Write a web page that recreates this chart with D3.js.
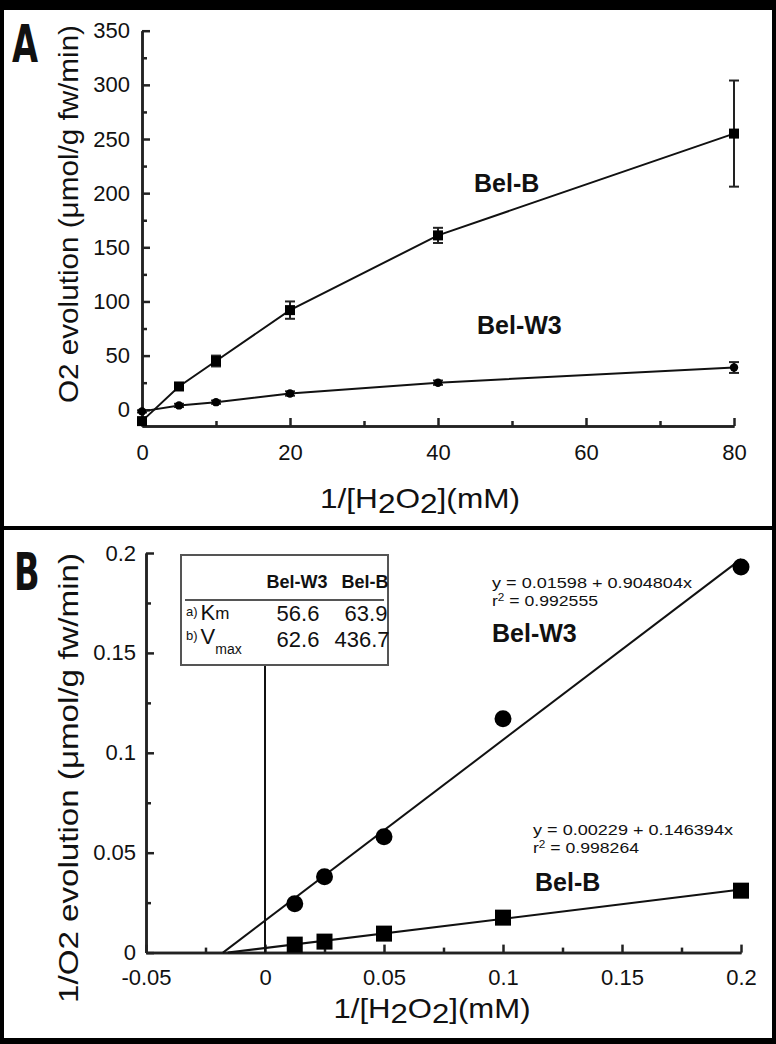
<!DOCTYPE html>
<html><head><meta charset="utf-8">
<script src="https://cdn.jsdelivr.net/npm/d3@7"></script>
<style>body{margin:0;background:#000;}svg{display:block;}text{font-family:"Liberation Sans",Arial,sans-serif;fill:#111;}</style>
</head><body>
<script>
// ---- Panel A data ----
const aX = [0, 5, 10, 20, 40, 80];
const aBelB = [-10.5, 21.5, 45, 92, 161, 255];
const aBelBErr = [2, 3, 5, 8, 7, 49];
const aBelW3 = [-1.5, 4, 7, 15, 25, 39];
const aBelW3Err = [1, 1.5, 1.5, 2, 2, 5];
const aXTicks = [0, 20, 40, 60, 80];
const aYTicks = [0, 50, 100, 150, 200, 250, 300, 350];
// ---- Panel B data ----
const bX = [0.0125, 0.025, 0.05, 0.1, 0.2];
const bBelW3 = [0.0245, 0.038, 0.058, 0.117, 0.193];
const bBelB = [0.004, 0.0055, 0.0095, 0.0175, 0.031];
const bFitW3 = [0.01598, 0.904804];   // intercept, slope
const bFitB = [0.00229, 0.146394];
const bFitEnd = 0.2;
const bXTicks = [-0.05, 0, 0.05, 0.1, 0.15, 0.2];
const bYTicks = [0, 0.05, 0.1, 0.15, 0.2];
const tableCols = ["Bel-W3", "Bel-B"];
const tableKm = ["56.6", "63.9"];
const tableVmax = ["62.6", "436.7"];

const W = 776, H = 1044;
const svg = d3.select("body").append("svg").attr("width", W).attr("height", H);
svg.append("rect").attr("width", W).attr("height", H).attr("fill", "#000");
svg.append("rect").attr("x", 4).attr("y", 10).attr("width", 768).attr("height", 516).attr("fill", "#fff");
svg.append("rect").attr("x", 4).attr("y", 530).attr("width", 768).attr("height", 508).attr("fill", "#fff");

const axisColor = "#222";
const TF = 22;
function styleAxis(g) {
  g.selectAll("path.domain").attr("stroke", axisColor).attr("stroke-width", 2.5);
  g.selectAll(".tick line").attr("stroke", axisColor).attr("stroke-width", 2.5);
  g.selectAll(".tick text").attr("fill", "#222").style("font-size", TF + "px").style("font-family", '"Liberation Sans",Arial,sans-serif');
}
function title(g, x, y, rot, len, parts, fs) {
  const t = g.append("text").attr("transform", `translate(${x},${y}) rotate(${rot})`)
    .attr("text-anchor", "middle").style("font-size", fs + "px").attr("fill", "#222")
    .attr("textLength", len).attr("lengthAdjust", "spacingAndGlyphs");
  let cur = 0;
  parts.forEach(([s, off]) => { t.append("tspan").attr("dy", off - cur).text(s); cur = off; });
}

// ================= Panel A =================
const ax = d3.scaleLinear().domain([0, 80]).range([142, 734]);
const ay = d3.scaleLinear().domain([-15, 350]).range([426, 30.7]);

const gA = svg.append("g");
gA.append("g").attr("transform", `translate(0,${ay(-15)})`)
  .call(d3.axisBottom(ax).tickValues([10, 30, 50, 70]).tickSize(-5).tickSizeOuter(0).tickFormat(""))
  .call(styleAxis);
gA.append("g").attr("transform", `translate(${ax(0)},0)`)
  .call(d3.axisLeft(ay).tickValues([25, 75, 125, 175, 225, 275, 325]).tickSize(-5).tickSizeOuter(0).tickFormat(""))
  .call(styleAxis);
gA.append("g").attr("transform", `translate(0,${ay(-15)})`)
  .call(d3.axisBottom(ax).tickValues(aXTicks).tickSize(-8).tickSizeOuter(0).tickPadding(18).tickFormat(d3.format("d")))
  .call(styleAxis);
gA.append("g").attr("transform", `translate(${ax(0)},0)`)
  .call(d3.axisLeft(ay).tickValues(aYTicks).tickSize(-8).tickSizeOuter(0).tickPadding(12).tickFormat(d3.format("d")))
  .call(styleAxis);

const lineA = d3.line().x(d => ax(d[0])).y(d => ay(d[1]));
const belB = aX.map((x, i) => [x, aBelB[i], aBelBErr[i]]);
const belW3 = aX.map((x, i) => [x, aBelW3[i], aBelW3Err[i]]);
[belB, belW3].forEach(s => {
  gA.append("path").datum(s).attr("d", lineA).attr("fill", "none").attr("stroke", "#111").attr("stroke-width", 2);
  const eb = gA.append("g").selectAll("g").data(s).join("g");
  eb.append("line").attr("x1", d => ax(d[0])).attr("x2", d => ax(d[0]))
    .attr("y1", d => ay(d[1] - d[2])).attr("y2", d => ay(d[1] + d[2])).attr("stroke", "#222").attr("stroke-width", 2);
  [-1, 1].forEach(sg => eb.append("line").attr("x1", d => ax(d[0]) - 5).attr("x2", d => ax(d[0]) + 5)
    .attr("y1", d => ay(d[1] + sg * d[2])).attr("y2", d => ay(d[1] + sg * d[2])).attr("stroke", "#222").attr("stroke-width", 2));
});
gA.selectAll("rect.mB").data(belB).join("rect").attr("class", "mB")
  .attr("x", d => ax(d[0]) - 5).attr("y", d => ay(d[1]) - 5).attr("width", 10).attr("height", 10).attr("fill", "#000");
gA.selectAll("circle.mW").data(belW3).join("circle").attr("class", "mW")
  .attr("cx", d => ax(d[0])).attr("cy", d => ay(d[1])).attr("r", 4.2).attr("fill", "#000");

gA.append("text").attr("x", 474).attr("y", 192).style("font-size", "25px").style("font-weight", "bold").text("Bel-B");
gA.append("text").attr("x", 477).attr("y", 334).style("font-size", "25px").style("font-weight", "bold").text("Bel-W3");

title(gA, 78, 214, -90, 378, [["O2 evolution (\u03bcmol/g fw/min)", 0]], 28);
title(gA, 420, 508, 0, 200, [["1/[H", 0], ["2", 5], ["O", 0], ["2", 5], ["](mM)", 0]], 28);

svg.append("text").attr("transform", "translate(12,62) scale(0.72,1)")
  .style("font-size", "52px").style("font-weight", "bold").style("font-family", '"DejaVu Sans Condensed","DejaVu Sans",sans-serif').attr("fill", "#000").text("A");

// ================= Panel B =================
const bx = d3.scaleLinear().domain([-0.05, 0.2]).range([146, 741]);
const by = d3.scaleLinear().domain([0, 0.2]).range([952.6, 553]);
const gB = svg.append("g");
const fmtB = d => (d === 0 ? "0" : String(+d.toFixed(3)).replace("\u2212", "-"));
gB.append("g").attr("transform", `translate(0,${by(0)})`)
  .call(d3.axisBottom(bx).tickValues([-0.025, 0.025, 0.075, 0.125, 0.175]).tickSize(-5).tickSizeOuter(0).tickFormat(""))
  .call(styleAxis);
gB.append("g").attr("transform", `translate(${bx(-0.05)},0)`)
  .call(d3.axisLeft(by).tickValues([0.025, 0.075, 0.125, 0.175]).tickSize(-5).tickSizeOuter(0).tickFormat(""))
  .call(styleAxis);
gB.append("g").attr("transform", `translate(0,${by(0)})`)
  .call(d3.axisBottom(bx).tickValues(bXTicks).tickSize(-8).tickSizeOuter(0).tickPadding(17).tickFormat(fmtB))
  .call(styleAxis);
gB.append("g").attr("transform", `translate(${bx(-0.05)},0)`)
  .call(d3.axisLeft(by).tickValues(bYTicks).tickSize(-8).tickSizeOuter(0).tickPadding(10).tickFormat(fmtB))
  .call(styleAxis);

// table
const tb = gB.append("g");
tb.append("rect").attr("x", 181).attr("y", 555).attr("width", 207).attr("height", 110).attr("fill", "#fff").attr("stroke", "#555").attr("stroke-width", 2);
tb.append("line").attr("x1", 185).attr("x2", 384).attr("y1", 600).attr("y2", 600).attr("stroke", "#555").attr("stroke-width", 2);
gB.append("line").attr("x1", bx(0)).attr("x2", bx(0)).attr("y1", 666).attr("y2", by(0)).attr("stroke", "#111").attr("stroke-width", 2);
tb.selectAll("text.h").data(tableCols).join("text").attr("class", "h")
  .attr("x", (d, i) => [297, 365][i]).attr("y", 588).attr("text-anchor", "middle")
  .style("font-size", "18px").style("font-weight", "bold").text(d => d);
tb.selectAll("text.k").data(tableKm).join("text").attr("class", "k")
  .attr("x", (d, i) => [298, 366][i]).attr("y", 621).attr("text-anchor", "middle").style("font-size", "22px").text(d => d);
tb.selectAll("text.v").data(tableVmax).join("text").attr("class", "v")
  .attr("x", (d, i) => [298, 362][i]).attr("y", 647).attr("text-anchor", "middle").style("font-size", "22px").text(d => d);
const k = tb.append("text").attr("x", 186).attr("y", 620).style("font-size", "22px");
k.append("tspan").style("font-size", "13px").attr("dy", -4).text("a)");
k.append("tspan").attr("dy", 4).attr("dx", 3).text("K");
k.append("tspan").style("font-size", "17px").attr("dy", -1).text("m");
const v = tb.append("text").attr("x", 186).attr("y", 644).style("font-size", "22px");
v.append("tspan").style("font-size", "13px").attr("dy", -4).text("b)");
v.append("tspan").attr("dy", 4).attr("dx", 3).text("V");
v.append("tspan").style("font-size", "14px").attr("dy", 10).text("max");

// regression lines (from the printed fit coefficients)
function fitLine(c) {
  return [[-c[0] / c[1], 0], [bFitEnd, c[0] + c[1] * bFitEnd]];
}
const lineB = d3.line().x(d => bx(d[0])).y(d => by(d[1]));
[bFitW3, bFitB].forEach(c => gB.append("path").datum(fitLine(c)).attr("d", lineB).attr("fill", "none").attr("stroke", "#111").attr("stroke-width", 2));
gB.selectAll("circle.w").data(bX.map((x, i) => [x, bBelW3[i]])).join("circle").attr("class", "w")
  .attr("cx", d => bx(d[0])).attr("cy", d => by(d[1])).attr("r", 8.5).attr("fill", "#000");
gB.selectAll("rect.b").data(bX.map((x, i) => [x, bBelB[i]])).join("rect").attr("class", "b")
  .attr("x", d => bx(d[0]) - 8).attr("y", d => by(d[1]) - 8).attr("width", 16).attr("height", 16).attr("fill", "#000");

function eq(x, y, l1, r2) {
  const g = gB.append("g");
  g.append("text").attr("x", x).attr("y", y).style("font-size", "15px").attr("textLength", 200).attr("lengthAdjust", "spacingAndGlyphs").text(l1);
  const t = g.append("text").attr("x", x).attr("y", y + 18).style("font-size", "15px").attr("textLength", 106).attr("lengthAdjust", "spacingAndGlyphs");
  t.append("tspan").text("r");
  t.append("tspan").attr("dy", -5).style("font-size", "10px").text("2");
  t.append("tspan").attr("dy", 5).text(" = " + r2);
}
eq(492, 588, "y = 0.01598 + 0.904804x", "0.992555");
eq(533, 835, "y = 0.00229 + 0.146394x", "0.998264");
gB.append("text").attr("x", 492).attr("y", 642).style("font-size", "25px").style("font-weight", "bold").text("Bel-W3");
gB.append("text").attr("x", 535).attr("y", 891).style("font-size", "25px").style("font-weight", "bold").text("Bel-B");

title(gB, 78, 778, -90, 450, [["1/O2 evolution (\u03bcmol/g fw/min)", 0]], 28);
title(gB, 432, 1018, 0, 197, [["1/[H", 0], ["2", 5], ["O", 0], ["2", 5], ["](mM)", 0]], 28);

svg.append("text").attr("transform", "translate(14,590) scale(0.72,1)")
  .style("font-size", "52px").style("font-weight", "bold").style("font-family", '"DejaVu Sans Condensed","DejaVu Sans",sans-serif').attr("fill", "#000").text("B");
</script>
</body></html>
